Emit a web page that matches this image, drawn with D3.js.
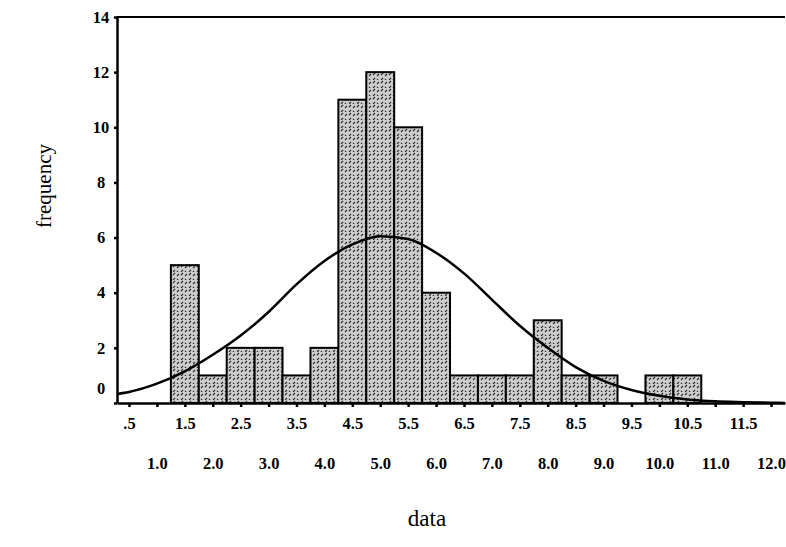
<!DOCTYPE html>
<html>
<head>
<meta charset="utf-8">
<script src="https://cdn.jsdelivr.net/npm/d3@7"></script>
<style>
  body { margin: 0; background: #fff; }
  svg { display: block; }
</style>
</head>
<body>
<div id="chart"></div>
<script>
// histogram bins (centre of each 0.5-wide bin) and their counts
const binCenters = [1.5, 2.0, 2.5, 3.0, 3.5, 4.0, 4.5, 5.0, 5.5, 6.0, 6.5, 7.0, 7.5, 8.0, 8.5, 9.0, 9.5, 10.0, 10.5];
const frequencies = [5, 1, 2, 2, 1, 2, 11, 12, 10, 4, 1, 1, 1, 3, 1, 1, 0, 1, 1];

// normal curve
const curveX = [0.29, 0.5, 1.0, 1.5, 2.0, 2.5, 3.0, 3.5, 4.0, 4.5, 5.0, 5.5, 6.0, 6.5, 7.0, 7.5, 8.0, 8.5, 9.0, 9.5, 10.0, 10.5, 11.0, 11.5, 12.0, 12.25];
const curveY = [0.33, 0.4, 0.7, 1.15, 1.75, 2.45, 3.3, 4.3, 5.15, 5.75, 6.05, 5.95, 5.45, 4.7, 3.75, 2.8, 2.0, 1.3, 0.8, 0.47, 0.26, 0.13, 0.06, 0.03, 0.01, 0.0];

const xTicks = [0.5, 1.0, 1.5, 2.0, 2.5, 3.0, 3.5, 4.0, 4.5, 5.0, 5.5, 6.0, 6.5, 7.0, 7.5, 8.0, 8.5, 9.0, 9.5, 10.0, 10.5, 11.0, 11.5, 12.0];
const xTickLabels = ['.5', '1.0', '1.5', '2.0', '2.5', '3.0', '3.5', '4.0', '4.5', '5.0', '5.5', '6.0', '6.5', '7.0', '7.5', '8.0', '8.5', '9.0', '9.5', '10.0', '10.5', '11.0', '11.5', '12.0'];
const yTicks = [0, 2, 4, 6, 8, 10, 12, 14];

const binWidth = 0.5;
const width = 786, height = 547;
const margin = { top: 17, right: 1, bottom: 144, left: 117 };

const svg = d3.select('#chart').append('svg')
  .attr('width', width)
  .attr('height', height);

// stippled fill for the bars
const defs = svg.append('defs');
const pat = defs.append('pattern')
  .attr('id', 'stipple')
  .attr('patternUnits', 'userSpaceOnUse')
  .attr('width', 8)
  .attr('height', 8);
pat.append('rect').attr('width', 8).attr('height', 8).attr('fill', '#cdcdcd');
pat.append('path')
  .attr('d', 'M1,4 L3,2 M5,8 L7,6 M5,3 L7,1 M1,8 L2,7')
  .attr('stroke', '#333')
  .attr('stroke-width', 1.2)
  .attr('fill', 'none');

const x = d3.scaleLinear()
  .domain([0.285, 12.25])
  .range([margin.left, width - margin.right]);

const y = d3.scaleLinear()
  .domain([0, 14])
  .range([height - margin.bottom, margin.top]);

const font = '"Liberation Serif", "Times New Roman", serif';

// bars
svg.append('g')
  .selectAll('rect')
  .data(binCenters.map((c, i) => ({ c, f: frequencies[i] })).filter(d => d.f > 0))
  .join('rect')
  .attr('x', d => x(d.c - binWidth / 2))
  .attr('y', d => y(d.f))
  .attr('width', d => x(d.c + binWidth / 2) - x(d.c - binWidth / 2))
  .attr('height', d => y(0) - y(d.f))
  .attr('fill', 'url(#stipple)')
  .attr('stroke', '#000')
  .attr('stroke-width', 2);

// normal curve
const line = d3.line()
  .x(d => x(d[0]))
  .y(d => y(d[1]))
  .curve(d3.curveMonotoneX);

svg.append('path')
  .datum(curveX.map((v, i) => [v, curveY[i]]))
  .attr('d', line)
  .attr('fill', 'none')
  .attr('stroke', '#000')
  .attr('stroke-width', 2.5);

// top frame line
svg.append('line')
  .attr('x1', x.range()[0]).attr('x2', x.range()[1])
  .attr('y1', y(14)).attr('y2', y(14))
  .attr('stroke', '#000')
  .attr('stroke-width', 2);

// x axis, labels in two alternating rows
const xAxis = svg.append('g')
  .attr('transform', `translate(0,${y(0)})`)
  .call(d3.axisBottom(x)
    .tickValues(xTicks)
    .tickSize(4)
    .tickSizeOuter(0)
    .tickFormat((d, i) => xTickLabels[i]));

xAxis.select('.domain').attr('stroke-width', 2.5);
xAxis.selectAll('.tick line').attr('stroke-width', 2.5);
xAxis.selectAll('.tick text')
  .attr('y', (d, i) => i % 2 === 0 ? 20 : 60)
  .attr('dy', '0.35em')
  .attr('font-family', font)
  .attr('font-weight', 'bold')
  .attr('font-size', 16.5)
  .attr('fill', '#000');

// y axis
const yAxis = svg.append('g')
  .attr('transform', `translate(${x.range()[0]},0)`)
  .call(d3.axisLeft(y)
    .tickValues(yTicks)
    .tickSize(3)
    .tickSizeOuter(0));

yAxis.select('.domain').attr('stroke-width', 2.5);
yAxis.selectAll('.tick line').attr('stroke-width', 2.5);
yAxis.selectAll('.tick text')
  .attr('x', -16)
  .attr('y', d => d === 0 ? -15 : 0)
  .attr('text-anchor', 'middle')
  .attr('font-family', font)
  .attr('font-weight', 'bold')
  .attr('font-size', 16.5)
  .attr('fill', '#000');

// axis titles
svg.append('text')
  .attr('transform', `translate(44,186) rotate(-90)`)
  .attr('text-anchor', 'middle')
  .attr('dy', '0.35em')
  .attr('font-family', font)
  .attr('font-size', 21)
  .text('frequency');

svg.append('text')
  .attr('x', 427)
  .attr('y', 526)
  .attr('text-anchor', 'middle')
  .attr('font-family', font)
  .attr('font-size', 23)
  .text('data');
</script>
</body>
</html>
